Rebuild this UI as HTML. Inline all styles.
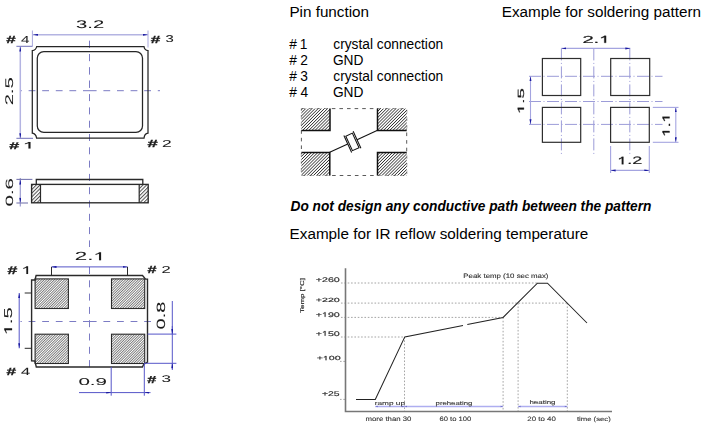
<!DOCTYPE html>
<html><head><meta charset="utf-8">
<style>
html,body{margin:0;padding:0;background:#fff;width:704px;height:426px;overflow:hidden}
svg{display:block;position:absolute;left:0;top:0}
#draw{will-change:transform;text-rendering:geometricPrecision}
</style></head>
<body>
<svg id="txt" width="704" height="426" viewBox="0 0 704 426">
<text x="289.38" y="16.80" font-size="15.26" font-weight="normal" font-style="normal" fill="#000" font-family="Liberation Sans">Pin function</text>
<text x="333.28" y="48.80" font-size="13.74" font-weight="normal" font-style="normal" fill="#000" font-family="Liberation Sans">crystal connection</text>
<text x="333.28" y="80.80" font-size="13.74" font-weight="normal" font-style="normal" fill="#000" font-family="Liberation Sans">crystal connection</text>
<text x="501.78" y="16.80" font-size="15.25" font-weight="normal" font-style="normal" fill="#000" font-family="Liberation Sans">Example for soldering pattern</text>
<text x="290.53" y="210.60" font-size="13.71" font-weight="bold" font-style="italic" fill="#000" font-family="Liberation Sans">Do not design any conductive path between the pattern</text>
<text x="289.58" y="238.80" font-size="15.28" font-weight="normal" font-style="normal" fill="#000" font-family="Liberation Sans">Example for IR reflow soldering temperature</text>
<text x="289.33" y="48.80" font-size="13.74" font-weight="normal" font-style="normal" fill="#000" font-family="Liberation Sans">#</text>
<text x="299.87" y="48.80" font-size="13.74" font-weight="normal" font-style="normal" fill="#000" font-family="Liberation Sans">1</text>
<text x="289.33" y="65.00" font-size="13.74" font-weight="normal" font-style="normal" fill="#000" font-family="Liberation Sans">#</text>
<text x="300.21" y="65.00" font-size="13.74" font-weight="normal" font-style="normal" fill="#000" font-family="Liberation Sans">2</text>
<text x="332.91" y="65.00" font-size="13.74" font-weight="normal" font-style="normal" fill="#000" font-family="Liberation Sans">GND</text>
<text x="289.33" y="80.80" font-size="13.74" font-weight="normal" font-style="normal" fill="#000" font-family="Liberation Sans">#</text>
<text x="300.35" y="80.80" font-size="13.74" font-weight="normal" font-style="normal" fill="#000" font-family="Liberation Sans">3</text>
<text x="289.33" y="96.50" font-size="13.74" font-weight="normal" font-style="normal" fill="#000" font-family="Liberation Sans">#</text>
<text x="300.56" y="96.50" font-size="13.74" font-weight="normal" font-style="normal" fill="#000" font-family="Liberation Sans">4</text>
<text x="332.91" y="96.50" font-size="13.74" font-weight="normal" font-style="normal" fill="#000" font-family="Liberation Sans">GND</text>
</svg>
<svg id="draw" width="704" height="426" viewBox="0 0 704 426">
<defs>
  <pattern id="h1" patternUnits="userSpaceOnUse" width="1.8" height="1.8" patternTransform="rotate(45)">
    <rect width="1.8" height="1.8" fill="#fff"/>
    <rect width="0.75" height="1.8" fill="#5e5e5e"/>
  </pattern>
  <pattern id="h2" patternUnits="userSpaceOnUse" width="2.2" height="2.2" patternTransform="rotate(45)">
    <rect width="2.2" height="2.2" fill="#fff"/>
    <rect width="0.75" height="2.2" fill="#303030"/>
  </pattern>
  <pattern id="h3" patternUnits="userSpaceOnUse" width="2.6" height="2.6" patternTransform="rotate(45)">
    <rect width="2.6" height="2.6" fill="#fff"/>
    <rect width="1.0" height="2.6" fill="#505050"/>
  </pattern>
  <marker id="arr" viewBox="0 0 10 4" refX="10" refY="2" markerWidth="5" markerHeight="2.2" orient="auto-start-reverse" markerUnits="userSpaceOnUse">
    <path d="M0,0 L10,2 L0,4 z" fill="#1a1aa0"/>
  </marker>
</defs>
<g fill="none">
<path d="M83.0,90.7 L96.6,90.7 M103.4,90.7 L110.2,90.7 M117.0,90.7 L123.8,90.7 M130.6,90.7 L137.4,90.7 M144.2,90.7 L151.0,90.7 M157.8,90.7 L160.0,90.7 M69.4,90.7 L76.2,90.7 M55.8,90.7 L62.6,90.7 M42.2,90.7 L49.0,90.7 M28.6,90.7 L35.4,90.7 M20.5,90.7 L21.8,90.7 M83.0,321.5 L96.6,321.5 M103.4,321.5 L110.2,321.5 M117.0,321.5 L123.8,321.5 M130.6,321.5 L137.4,321.5 M144.2,321.5 L151.0,321.5 M69.4,321.5 L76.2,321.5 M55.8,321.5 L62.6,321.5 M42.2,321.5 L49.0,321.5 M28.6,321.5 L35.4,321.5 M20.5,321.5 L21.8,321.5 M89.5,94.1 L89.5,101.1 M89.5,107.4 L89.5,114.4 M89.5,120.7 L89.5,127.7 M89.5,134.0 L89.5,141.0 M89.5,147.3 L89.5,154.3 M89.5,160.6 L89.5,167.6 M89.5,173.9 L89.5,180.9 M89.5,187.2 L89.5,194.2 M89.5,200.5 L89.5,207.5 M89.5,213.8 L89.5,220.8 M89.5,227.1 L89.5,234.1 M89.5,240.4 L89.5,247.0 M89.5,80.7 L89.5,87.7 M89.5,67.4 L89.5,74.4 M89.5,54.1 L89.5,61.1 M89.5,40.8 L89.5,47.8 M89.5,80.7 L89.5,87.7 M89.5,67.4 L89.5,74.4 M89.5,54.1 L89.5,61.1 M89.5,40.8 L89.5,47.8 M89.5,267.0 L89.5,274.0 M89.5,280.3 L89.5,287.3 M89.5,293.6 L89.5,300.6 M89.5,306.9 L89.5,313.9 M89.5,320.2 L89.5,327.2 M89.5,333.5 L89.5,340.5 M89.5,346.8 L89.5,353.8 M89.5,360.1 L89.5,367.1" stroke="#7c7cc4" stroke-width="1" fill="none"/>
  <g stroke="#b4b4e2" stroke-width="1.5">
    <line x1="33" y1="34.8" x2="148" y2="34.8" marker-start="url(#arr)" marker-end="url(#arr)"/>
    <line x1="20.3" y1="46.5" x2="20.3" y2="138.3" marker-start="url(#arr)" marker-end="url(#arr)"/>
  </g>
  <g stroke="#a8a8dc" stroke-width="1">
    <line x1="32.4" y1="30.5" x2="32.4" y2="46.5"/>
    <line x1="148" y1="30.5" x2="148" y2="47.5"/>
  </g>
  <g stroke="#7070b8" stroke-width="1">
    <line x1="16.4" y1="46.3" x2="32.4" y2="46.3"/>
    <line x1="16.4" y1="138.3" x2="33" y2="138.3"/>
  </g>
  <path d="M36.7,46.5 L144,46.5 Q144.5,50.3 148,50.6 L148,133.2 Q144.5,133.6 144,138.2 L36.6,138.2 Q36,133.8 32.3,133.2 L32.3,50.6 Q36,50.2 36.7,46.5 Z" stroke="#262626" stroke-width="1.25"/>
  <rect x="37.3" y="51.6" width="105.2" height="80.8" rx="6.5" stroke="#262626" stroke-width="1.25"/>
</g>
<g fill="none">
  <g stroke="#9a9ad0" stroke-width="1.2">
    <line x1="20.3" y1="178" x2="20.3" y2="206.5"/>
    <line x1="20.3" y1="185" x2="20.3" y2="179.6" marker-end="url(#arr)"/>
    <line x1="20.3" y1="197" x2="20.3" y2="202.8" marker-end="url(#arr)"/>
  </g>
  <g stroke="#7878b0" stroke-width="1.1">
    <line x1="16.4" y1="179.4" x2="32.4" y2="179.4"/>
    <line x1="16.4" y1="203" x2="28" y2="203"/>
  </g>
  <rect x="31.5" y="184.1" width="9" height="18.8" fill="url(#h3)" stroke="none"/>
  <rect x="139.2" y="184.1" width="9" height="18.8" fill="url(#h3)" stroke="none"/>
  <path d="M36.3,184.1 L36.3,179.5 L142.8,179.5 L142.8,184.1" stroke="#2a2a2a" stroke-width="1.3"/>
  <rect x="31.6" y="184.4" width="116.6" height="18.4" stroke="#2a2a2a" stroke-width="1.35"/>
  <line x1="40.5" y1="184.1" x2="40.5" y2="202.9" stroke="#2a2a2a" stroke-width="1.2"/>
  <line x1="139.2" y1="184.1" x2="139.2" y2="202.9" stroke="#2a2a2a" stroke-width="1.2"/>
</g>
<g fill="none">
  <rect x="35.1" y="278.9" width="33.3" height="29.6" fill="url(#h1)" stroke="#2a2a2a" stroke-width="1.1"/>
  <rect x="111.5" y="278.9" width="33.2" height="29.6" fill="url(#h1)" stroke="#2a2a2a" stroke-width="1.1"/>
  <rect x="35.1" y="334.2" width="33.3" height="29.3" fill="url(#h1)" stroke="#2a2a2a" stroke-width="1.1"/>
  <rect x="111.5" y="334.2" width="33.2" height="29.3" fill="url(#h1)" stroke="#2a2a2a" stroke-width="1.1"/>
  <path d="M36.1,275.5 L142.5,275.5 L145.6,279.1 L147.5,279.1 L147.5,362.1 L143.8,364.2 L142.4,367 L36.3,367 L34.9,361 L31.6,360.9 L31.6,280 L35,280 Z" stroke="#2a2a2a" stroke-width="1.4"/>
  <g stroke="#5555c8" stroke-width="1">
    <line x1="51.5" y1="266.9" x2="127.5" y2="266.9" marker-start="url(#arr)" marker-end="url(#arr)"/>
    <line x1="19.2" y1="293" x2="19.2" y2="348.3" marker-start="url(#arr)" marker-end="url(#arr)"/>
    <line x1="172.3" y1="301" x2="172.3" y2="369"/>
    <line x1="172.3" y1="326" x2="172.3" y2="334.1" marker-end="url(#arr)"/>
    <line x1="172.3" y1="370" x2="172.3" y2="363.3" marker-end="url(#arr)"/>
    <line x1="147.6" y1="334.1" x2="176.4" y2="334.1"/>
    <line x1="144" y1="363.3" x2="176.4" y2="363.3"/>
    <line x1="79" y1="392.6" x2="111.2" y2="392.6" marker-end="url(#arr)"/>
    <line x1="111.2" y1="392.6" x2="144.3" y2="392.6"/>
    <line x1="150.5" y1="392.6" x2="144.3" y2="392.6" marker-end="url(#arr)"/>
    <line x1="111.2" y1="367" x2="111.2" y2="395.7"/>
    <line x1="144.3" y1="363.3" x2="144.3" y2="395.7"/>
  </g>
  <g stroke="#2a2a2a" stroke-width="1">
    <line x1="51.5" y1="266.9" x2="51.5" y2="275.4"/>
    <line x1="127.5" y1="266.9" x2="127.5" y2="275.4"/>
    <line x1="24.7" y1="293" x2="31.6" y2="293"/>
    <line x1="24.7" y1="348.3" x2="31.6" y2="348.3"/>
  </g>
</g>
<g fill="none">
  <rect x="301.4" y="108.6" width="105.3" height="66.9" stroke="#5a5a5a" stroke-width="1" stroke-dasharray="3.6 4"/>
  <rect x="301.4" y="108.6" width="28.6" height="21.9" fill="url(#h2)" stroke="none"/>
  <rect x="377.5" y="108.6" width="29.2" height="21.9" fill="url(#h2)" stroke="none"/>
  <rect x="301.4" y="152.4" width="28.4" height="23.1" fill="url(#h2)" stroke="none"/>
  <rect x="377.5" y="152.4" width="29.2" height="23.1" fill="url(#h2)" stroke="none"/>
  <g stroke="#111" stroke-width="1.5">
    <path d="M301.4,130.5 L330,130.5 L330,108.6"/>
    <path d="M377.5,108.6 L377.5,130.5 L406.7,130.5"/>
    <path d="M301.4,152.4 L329.8,152.4 L329.8,175.5"/>
    <path d="M377.5,175.5 L377.5,152.4 L406.7,152.4"/>
  </g>
  <g transform="translate(352.4,141.9) rotate(-24.7)" stroke="#111" stroke-width="1.05">
    <line x1="-25" y1="0" x2="-5.1" y2="0"/>
    <line x1="5.1" y1="0" x2="27.7" y2="0"/>
    <line x1="-5.1" y1="-9.3" x2="-5.1" y2="9.3"/>
    <line x1="5.1" y1="-9.3" x2="5.1" y2="9.3"/>
    <rect x="-3.6" y="-8" width="7.2" height="16"/>
  </g>
</g>
<g fill="none">
  <g stroke="#9c9cd8" stroke-width="1" stroke-dasharray="12 2.5 1 2.5">
    <line x1="561.4" y1="48.4" x2="561.4" y2="154"/>
    <line x1="629.8" y1="48.4" x2="629.8" y2="154"/>
    <line x1="593.8" y1="48.4" x2="593.8" y2="154"/>
    <line x1="529" y1="76.3" x2="662.5" y2="76.3"/>
    <line x1="529" y1="124.4" x2="662.5" y2="124.4"/>
    <line x1="529" y1="101.5" x2="662.5" y2="101.5"/>
  </g>
  <g stroke="#2e2e2e" stroke-width="1.2">
    <rect x="542.4" y="58.5" width="38.3" height="37"/>
    <rect x="610.7" y="58.5" width="39" height="37"/>
    <rect x="542.4" y="107.4" width="38.3" height="34.9"/>
    <rect x="610.6" y="107.4" width="38.7" height="34.9"/>
  </g>
  <g stroke="#a4a4e0" stroke-width="1.1">
    <line x1="561.4" y1="48.4" x2="630.3" y2="48.4" marker-start="url(#arr)" marker-end="url(#arr)"/>
    <line x1="530.5" y1="76.3" x2="530.5" y2="124.3" marker-start="url(#arr)" marker-end="url(#arr)"/>
    <line x1="675.8" y1="107.4" x2="675.8" y2="142.3" marker-start="url(#arr)" marker-end="url(#arr)"/>
    <line x1="652.8" y1="107.4" x2="678.5" y2="107.4"/>
    <line x1="652.8" y1="142.3" x2="678.5" y2="142.3"/>
    <line x1="610.6" y1="170.4" x2="649.3" y2="170.4" marker-start="url(#arr)" marker-end="url(#arr)"/>
    <line x1="610.6" y1="146" x2="610.6" y2="173"/>
    <line x1="649.3" y1="146" x2="649.3" y2="173"/>
  </g>
</g>
<g fill="none">
  <g stroke="#9a9a9a" stroke-width="0.9" stroke-dasharray="1.6 1.75">
    <line x1="341" y1="283" x2="537.5" y2="283"/>
    <line x1="341" y1="303.1" x2="567.3" y2="303.1"/>
    <line x1="341" y1="317.4" x2="503.1" y2="317.4"/>
    <line x1="341" y1="337" x2="404.5" y2="337"/>
    <line x1="340" y1="361.4" x2="345" y2="361.4"/>
    <line x1="340" y1="399.4" x2="345" y2="399.4"/>
    <line x1="404.5" y1="337" x2="404.5" y2="411"/>
    <line x1="503.1" y1="317.4" x2="503.1" y2="411"/>
    <line x1="518.1" y1="303.1" x2="518.1" y2="411"/>
    <line x1="567.3" y1="303.1" x2="567.3" y2="411"/>
  </g>
  <path d="M345.5,268.3 L345.5,411.5 L612,411.5" stroke="#777" stroke-width="1.6"/>
  <path d="M356,399.4 L375.3,399.4 L404.8,336.9 L463,325.4 M467.3,324.5 L503.1,317.4 L537.4,283.2 L547.5,283.2 L587,323" stroke="#222" stroke-width="1.05"/>
  <g stroke="#aeaef0" stroke-width="1.4">
    <line x1="375.3" y1="406.5" x2="503.1" y2="406.5"/>
    <line x1="518.1" y1="406.5" x2="567.3" y2="406.5"/>
  </g>
  <g fill="#7070c8">
    <path d="M375.3,406.5 l2.5,-0.7 v1.4 z"/><path d="M404.5,406.5 l-2.5,-0.7 v1.4 z"/><path d="M404.5,406.5 l2.5,-0.7 v1.4 z"/><path d="M503.1,406.5 l-2.5,-0.7 v1.4 z"/>
    <path d="M518.1,406.5 l2.5,-0.7 v1.4 z"/><path d="M567.3,406.5 l-2.5,-0.7 v1.4 z"/>
  </g>
</g>
<g transform="translate(76.09,27.69) scale(0.2023,0.1113)"><text x="0.00" y="0" font-size="100" font-weight="normal" font-family="Liberation Sans" fill="#1a1a1a" stroke="#1a1a1a" stroke-width="0.45" xml:space="preserve">3.2</text></g>
<g transform="translate(12.99,105.31) rotate(-90) scale(0.2023,0.1113)"><text x="0.00" y="0" font-size="100" font-weight="normal" font-family="Liberation Sans" fill="#1a1a1a" stroke="#1a1a1a" stroke-width="0.45" xml:space="preserve">2.5</text></g>
<g transform="translate(6.35,42.50) scale(0.1695,0.1029)"><text x="0.00" y="0" font-size="100" font-weight="bold" font-family="Liberation Sans" fill="#1a1a1a" stroke="#1a1a1a" stroke-width="2.91" xml:space="preserve">#</text></g>
<g transform="translate(21.02,42.50) scale(0.1520,0.1022)"><text x="0.00" y="0" font-size="100" font-weight="normal" font-family="Liberation Sans" fill="#1a1a1a" stroke="#1a1a1a" stroke-width="0.49" xml:space="preserve">4</text></g>
<g transform="translate(150.74,42.50) scale(0.1714,0.1029)"><text x="0.00" y="0" font-size="100" font-weight="bold" font-family="Liberation Sans" fill="#1a1a1a" stroke="#1a1a1a" stroke-width="2.91" xml:space="preserve">#</text></g>
<g transform="translate(165.40,42.40) scale(0.1489,0.0986)"><text x="0.00" y="0" font-size="100" font-weight="normal" font-family="Liberation Sans" fill="#1a1a1a" stroke="#1a1a1a" stroke-width="0.51" xml:space="preserve">3</text></g>
<g transform="translate(9.13,148.60) scale(0.1790,0.0971)"><text x="0.00" y="0" font-size="100" font-weight="bold" font-family="Liberation Sans" fill="#1a1a1a" stroke="#1a1a1a" stroke-width="3.09" xml:space="preserve">#</text></g>
<g transform="translate(22.73,148.60) scale(0.2286,0.0957)"><path transform="translate(0.00,0)" d="M25,0 L34,0 L34,-68.8 L25.5,-68.8 Q22,-60 9.5,-53 L9.5,-45 Q19,-49.5 25,-55 Z" fill="#1a1a1a" stroke="#1a1a1a" stroke-width="0.52"/></g>
<g transform="translate(147.62,147.00) scale(0.1848,0.1029)"><text x="0.00" y="0" font-size="100" font-weight="bold" font-family="Liberation Sans" fill="#1a1a1a" stroke="#1a1a1a" stroke-width="2.91" xml:space="preserve">#</text></g>
<g transform="translate(162.03,147.00) scale(0.1736,0.1000)"><text x="0.00" y="0" font-size="100" font-weight="normal" font-family="Liberation Sans" fill="#1a1a1a" stroke="#1a1a1a" stroke-width="0.50" xml:space="preserve">2</text></g>
<g transform="translate(12.59,206.52) rotate(-90) scale(0.2054,0.1056)"><text x="0.00" y="0" font-size="100" font-weight="normal" font-family="Liberation Sans" fill="#1a1a1a" stroke="#1a1a1a" stroke-width="0.47" xml:space="preserve">0.6</text></g>
<g transform="translate(74.78,260.30) scale(0.2240,0.1186)"><text x="0.00" y="0" font-size="100" font-weight="normal" font-family="Liberation Sans" fill="#1a1a1a" stroke="#1a1a1a" stroke-width="0.42" xml:space="preserve">2.</text><path transform="translate(83.40,0)" d="M25,0 L34,0 L34,-68.8 L25.5,-68.8 Q22,-60 9.5,-53 L9.5,-45 Q19,-49.5 25,-55 Z" fill="#1a1a1a" stroke="#1a1a1a" stroke-width="0.42"/></g>
<g transform="translate(12.09,335.22) rotate(-90) scale(0.2016,0.1143)"><path transform="translate(0.00,0)" d="M25,0 L34,0 L34,-68.8 L25.5,-68.8 Q22,-60 9.5,-53 L9.5,-45 Q19,-49.5 25,-55 Z" fill="#1a1a1a" stroke="#1a1a1a" stroke-width="0.44"/><text x="55.62" y="0" font-size="100" font-weight="normal" font-family="Liberation Sans" fill="#1a1a1a" stroke="#1a1a1a" stroke-width="0.44" xml:space="preserve">.5</text></g>
<g transform="translate(165.28,329.40) rotate(-90) scale(0.2000,0.1197)"><text x="0.00" y="0" font-size="100" font-weight="normal" font-family="Liberation Sans" fill="#1a1a1a" stroke="#1a1a1a" stroke-width="0.42" xml:space="preserve">0.8</text></g>
<g transform="translate(78.38,385.30) scale(0.2062,0.1000)"><text x="0.00" y="0" font-size="100" font-weight="normal" font-family="Liberation Sans" fill="#1a1a1a" stroke="#1a1a1a" stroke-width="0.50" xml:space="preserve">0.9</text></g>
<g transform="translate(7.43,273.90) scale(0.1771,0.1118)"><text x="0.00" y="0" font-size="100" font-weight="bold" font-family="Liberation Sans" fill="#1a1a1a" stroke="#1a1a1a" stroke-width="2.68" xml:space="preserve">#</text></g>
<g transform="translate(21.44,273.90) scale(0.1959,0.1101)"><path transform="translate(0.00,0)" d="M25,0 L34,0 L34,-68.8 L25.5,-68.8 Q22,-60 9.5,-53 L9.5,-45 Q19,-49.5 25,-55 Z" fill="#1a1a1a" stroke="#1a1a1a" stroke-width="0.45"/></g>
<g transform="translate(147.46,273.00) scale(0.1619,0.1029)"><text x="0.00" y="0" font-size="100" font-weight="bold" font-family="Liberation Sans" fill="#1a1a1a" stroke="#1a1a1a" stroke-width="2.91" xml:space="preserve">#</text></g>
<g transform="translate(161.48,273.00) scale(0.1648,0.1000)"><text x="0.00" y="0" font-size="100" font-weight="normal" font-family="Liberation Sans" fill="#1a1a1a" stroke="#1a1a1a" stroke-width="0.50" xml:space="preserve">2</text></g>
<g transform="translate(6.54,375.10) scale(0.1733,0.1044)"><text x="0.00" y="0" font-size="100" font-weight="bold" font-family="Liberation Sans" fill="#1a1a1a" stroke="#1a1a1a" stroke-width="2.87" xml:space="preserve">#</text></g>
<g transform="translate(20.89,375.10) scale(0.1640,0.1036)"><text x="0.00" y="0" font-size="100" font-weight="normal" font-family="Liberation Sans" fill="#1a1a1a" stroke="#1a1a1a" stroke-width="0.48" xml:space="preserve">4</text></g>
<g transform="translate(147.16,382.50) scale(0.1619,0.1015)"><text x="0.00" y="0" font-size="100" font-weight="bold" font-family="Liberation Sans" fill="#1a1a1a" stroke="#1a1a1a" stroke-width="2.96" xml:space="preserve">#</text></g>
<g transform="translate(161.52,382.40) scale(0.1702,0.0972)"><text x="0.00" y="0" font-size="100" font-weight="normal" font-family="Liberation Sans" fill="#1a1a1a" stroke="#1a1a1a" stroke-width="0.51" xml:space="preserve">3</text></g>
<g transform="translate(582.39,42.80) scale(0.2018,0.1014)"><text x="0.00" y="0" font-size="100" font-weight="normal" font-family="Liberation Sans" fill="#1a1a1a" stroke="#1a1a1a" stroke-width="1.97" xml:space="preserve">2.</text><path transform="translate(83.40,0)" d="M25,0 L34,0 L34,-68.8 L25.5,-68.8 Q22,-60 9.5,-53 L9.5,-45 Q19,-49.5 25,-55 Z" fill="#1a1a1a" stroke="#1a1a1a" stroke-width="1.97"/></g>
<g transform="translate(523.91,114.06) rotate(-90) scale(0.1857,0.0900)"><path transform="translate(0.00,0)" d="M25,0 L34,0 L34,-68.8 L25.5,-68.8 Q22,-60 9.5,-53 L9.5,-45 Q19,-49.5 25,-55 Z" fill="#1a1a1a" stroke="#1a1a1a" stroke-width="2.22"/><text x="55.62" y="0" font-size="100" font-weight="normal" font-family="Liberation Sans" fill="#1a1a1a" stroke="#1a1a1a" stroke-width="2.22" xml:space="preserve">.5</text></g>
<g transform="translate(669.50,136.83) rotate(-90) scale(0.1713,0.1014)"><path transform="translate(0.00,0)" d="M25,0 L34,0 L34,-68.8 L25.5,-68.8 Q22,-60 9.5,-53 L9.5,-45 Q19,-49.5 25,-55 Z" fill="#1a1a1a" stroke="#1a1a1a" stroke-width="2.46"/><text x="55.62" y="0" font-size="100" font-weight="normal" font-family="Liberation Sans" fill="#1a1a1a" stroke="#1a1a1a" stroke-width="2.46" xml:space="preserve">.</text><path transform="translate(83.40,0)" d="M25,0 L34,0 L34,-68.8 L25.5,-68.8 Q22,-60 9.5,-53 L9.5,-45 Q19,-49.5 25,-55 Z" fill="#1a1a1a" stroke="#1a1a1a" stroke-width="2.46"/></g>
<g transform="translate(617.29,164.30) scale(0.1799,0.1086)"><path transform="translate(0.00,0)" d="M25,0 L34,0 L34,-68.8 L25.5,-68.8 Q22,-60 9.5,-53 L9.5,-45 Q19,-49.5 25,-55 Z" fill="#1a1a1a" stroke="#1a1a1a" stroke-width="1.84"/><text x="55.62" y="0" font-size="100" font-weight="normal" font-family="Liberation Sans" fill="#1a1a1a" stroke="#1a1a1a" stroke-width="1.84" xml:space="preserve">.2</text></g>
<text transform="translate(303.85,312.90) rotate(-90) scale(1.452,1)" font-size="5.45" font-weight="normal" font-style="normal" fill="#333" stroke="#333" stroke-width="0.2" font-family="Liberation Sans">Temp [°C]</text>
<g transform="translate(315.77,281.83) scale(0.1062,0.0662)"><text x="0.00" y="0" font-size="100" font-weight="normal" font-family="Liberation Sans" fill="#333" stroke="#333" stroke-width="2.72" xml:space="preserve">+260</text></g>
<g transform="translate(315.77,301.54) scale(0.1062,0.0592)"><text x="0.00" y="0" font-size="100" font-weight="normal" font-family="Liberation Sans" fill="#333" stroke="#333" stroke-width="3.04" xml:space="preserve">+220</text></g>
<g transform="translate(315.77,316.83) scale(0.1062,0.0662)"><text x="0.00" y="0" font-size="100" font-weight="normal" font-family="Liberation Sans" fill="#333" stroke="#333" stroke-width="2.72" xml:space="preserve">+</text><path transform="translate(58.40,0)" d="M25,0 L34,0 L34,-68.8 L25.5,-68.8 Q22,-60 9.5,-53 L9.5,-45 Q19,-49.5 25,-55 Z" fill="#333" stroke="#333" stroke-width="2.72"/><text x="114.01" y="0" font-size="100" font-weight="normal" font-family="Liberation Sans" fill="#333" stroke="#333" stroke-width="2.72" xml:space="preserve">90</text></g>
<g transform="translate(315.77,335.63) scale(0.1062,0.0662)"><text x="0.00" y="0" font-size="100" font-weight="normal" font-family="Liberation Sans" fill="#333" stroke="#333" stroke-width="2.72" xml:space="preserve">+</text><path transform="translate(58.40,0)" d="M25,0 L34,0 L34,-68.8 L25.5,-68.8 Q22,-60 9.5,-53 L9.5,-45 Q19,-49.5 25,-55 Z" fill="#333" stroke="#333" stroke-width="2.72"/><text x="114.01" y="0" font-size="100" font-weight="normal" font-family="Liberation Sans" fill="#333" stroke="#333" stroke-width="2.72" xml:space="preserve">50</text></g>
<g transform="translate(316.67,360.14) scale(0.1062,0.0592)"><text x="0.00" y="0" font-size="100" font-weight="normal" font-family="Liberation Sans" fill="#333" stroke="#333" stroke-width="3.04" xml:space="preserve">+</text><path transform="translate(58.40,0)" d="M25,0 L34,0 L34,-68.8 L25.5,-68.8 Q22,-60 9.5,-53 L9.5,-45 Q19,-49.5 25,-55 Z" fill="#333" stroke="#333" stroke-width="3.04"/><text x="114.01" y="0" font-size="100" font-weight="normal" font-family="Liberation Sans" fill="#333" stroke="#333" stroke-width="3.04" xml:space="preserve">00</text></g>
<g transform="translate(321.88,396.13) scale(0.1034,0.0690)"><text x="0.00" y="0" font-size="100" font-weight="normal" font-family="Liberation Sans" fill="#333" stroke="#333" stroke-width="2.61" xml:space="preserve">+25</text></g>
<text transform="translate(463.37,278.00) scale(1.229,1)" font-size="6.40" font-weight="normal" font-style="normal" fill="#333" stroke="#333" stroke-width="0.12" font-family="Liberation Sans">Peak temp (10 sec max)</text>
<text transform="translate(374.76,404.60) scale(1.475,1)" font-size="5.60" font-weight="normal" font-style="normal" fill="#333" stroke="#333" stroke-width="0.1" font-family="Liberation Sans">ramp up</text>
<text transform="translate(435.59,404.60) scale(1.387,1)" font-size="5.60" font-weight="normal" font-style="normal" fill="#333" stroke="#333" stroke-width="0.1" font-family="Liberation Sans">preheating</text>
<text transform="translate(529.44,404.40) scale(1.419,1)" font-size="5.60" font-weight="normal" font-style="normal" fill="#333" stroke="#333" stroke-width="0.1" font-family="Liberation Sans">heating</text>
<text transform="translate(365.49,421.20) scale(1.239,1)" font-size="6.30" font-weight="normal" font-style="normal" fill="#333" stroke="#333" stroke-width="0.1" font-family="Liberation Sans">more than 30</text>
<text transform="translate(439.42,421.00) scale(1.214,1)" font-size="6.30" font-weight="normal" font-style="normal" fill="#333" stroke="#333" stroke-width="0.1" font-family="Liberation Sans">60 to 100</text>
<text transform="translate(527.30,421.00) scale(1.256,1)" font-size="6.30" font-weight="normal" font-style="normal" fill="#333" stroke="#333" stroke-width="0.1" font-family="Liberation Sans">20 to 40</text>
<text transform="translate(576.88,420.80) scale(1.284,1)" font-size="6.00" font-weight="normal" font-style="normal" fill="#333" stroke="#333" stroke-width="0.1" font-family="Liberation Sans">time (sec)</text>
</svg>
</body></html>
